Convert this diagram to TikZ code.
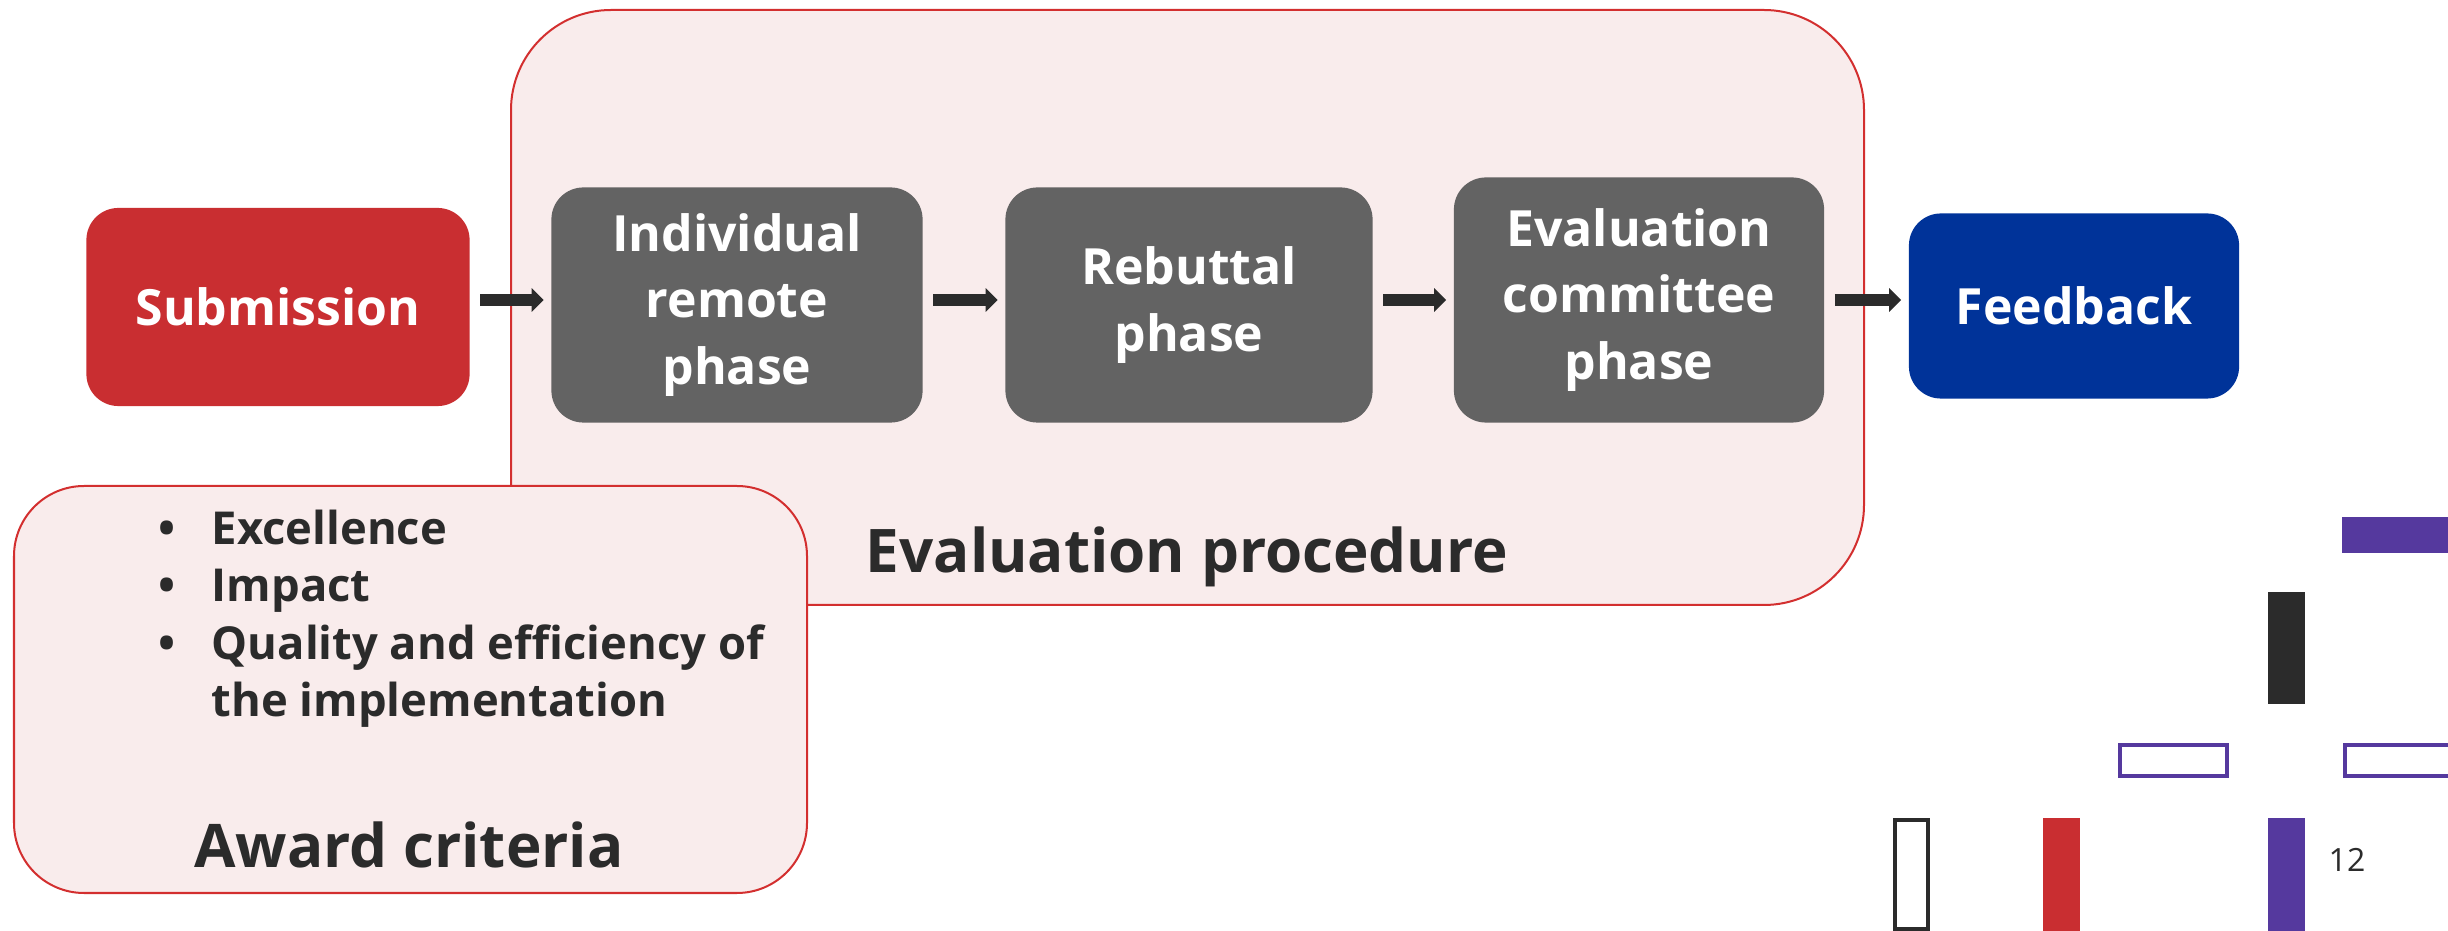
\documentclass[tikz,border=0pt]{standalone}
\usepackage{fontspec}
\setmainfont{Open Sans}
\usetikzlibrary{arrows.meta}
\definecolor{subred}{RGB}{201,46,49}
\definecolor{phasegrey}{RGB}{99,99,99}
\definecolor{fbblue}{RGB}{0,51,153}
\definecolor{panelpink}{RGB}{249,236,236}
\definecolor{panelred}{RGB}{211,47,47}
\definecolor{arrowdark}{RGB}{43,43,43}
\definecolor{barpurple}{RGB}{85,57,158}
\begin{document}
\begin{tikzpicture}[x=0.01cm,y=-0.01cm,
    phase/.style={rounded corners=0.32cm,fill=phasegrey,text=white,inner sep=0pt,
      align=center,font=\bfseries\fontsize{14.2}{19}\selectfont},
    panel/.style={fill=panelpink,draw=panelred,line width=0.02cm},
    flow/.style={line width=0.12cm,draw=arrowdark,
      -{Triangle[length=0.12cm,width=0.23cm]},shorten <=0.1cm,shorten >=0.07cm},
    crit/.style={anchor=base west,inner sep=0pt,text=arrowdark,
      font=\bfseries\fontsize{12.9}{16}\selectfont},
    title/.style={anchor=base,inner sep=0pt,text=arrowdark,
      font=\bfseries\fontsize{17.1}{22}\selectfont}]
  \useasboundingbox (0,0) rectangle (2448,931);
  \draw[panel,rounded corners=1cm] (511,10) rectangle (1864,605);
  \node[title] (evproc) at (1187,573) {Evaluation procedure};
  \node[phase,fill=subred,minimum width=3.83cm,minimum height=1.98cm] (sub) at (278,307) {Submission};
  \node[phase,minimum width=3.71cm,minimum height=2.35cm] (ind) at (737,305) {Individual\\remote\\phase};
  \node[phase,minimum width=3.67cm,minimum height=2.35cm] (reb) at (1189,305) {Rebuttal\\phase};
  \node[phase,minimum width=3.70cm,minimum height=2.45cm] (evc) at (1639,300) {Evaluation\\committee\\phase};
  \node[phase,fill=fbblue,minimum width=3.30cm,minimum height=1.85cm] (fb) at (2074,306) {Feedback};
  \draw[flow] (sub.east |- 0,300) -- (ind.west |- 0,300);
  \draw[flow] (ind.east |- 0,300) -- (reb.west |- 0,300);
  \draw[flow] (reb.east |- 0,300) -- (evc.west |- 0,300);
  \draw[flow] (evc.east |- 0,300) -- (fb.west |- 0,300);
  \draw[panel,rounded corners=0.7cm] (14,486) rectangle (807,893);
  \node[crit] (exc) at (158,545) {\makebox[0.53cm][l]{\textbullet}Excellence};
  \node[crit] (imp) at (158,602) {\makebox[0.53cm][l]{\textbullet}Impact};
  \node[crit] (qual) at (158,660) {\makebox[0.53cm][l]{\textbullet}Quality and efficiency of};
  \node[crit] (impl) at (211,717) {the implementation};
  \node[title] (award) at (409,867) {Award criteria};
  \fill[barpurple] (2342,517) rectangle (2448,553);
  \fill[arrowdark] (2268,592) rectangle (2305,704);
  \draw[barpurple,line width=0.04cm] (2120,745) rectangle (2227,776);
  \draw[barpurple,line width=0.04cm] (2345,745) rectangle (2460,776);
  \draw[arrowdark,line width=0.04cm] (1895,820) rectangle (1928,929);
  \fill[subred] (2043,818) rectangle (2080,931);
  \fill[barpurple] (2268,818) rectangle (2305,931);
  \node[anchor=base west,inner sep=0pt,text=arrowdark,font=\fontsize{9.1}{11}\selectfont] (pgnum) at (2328,871) {12};
\end{tikzpicture}
\end{document}
